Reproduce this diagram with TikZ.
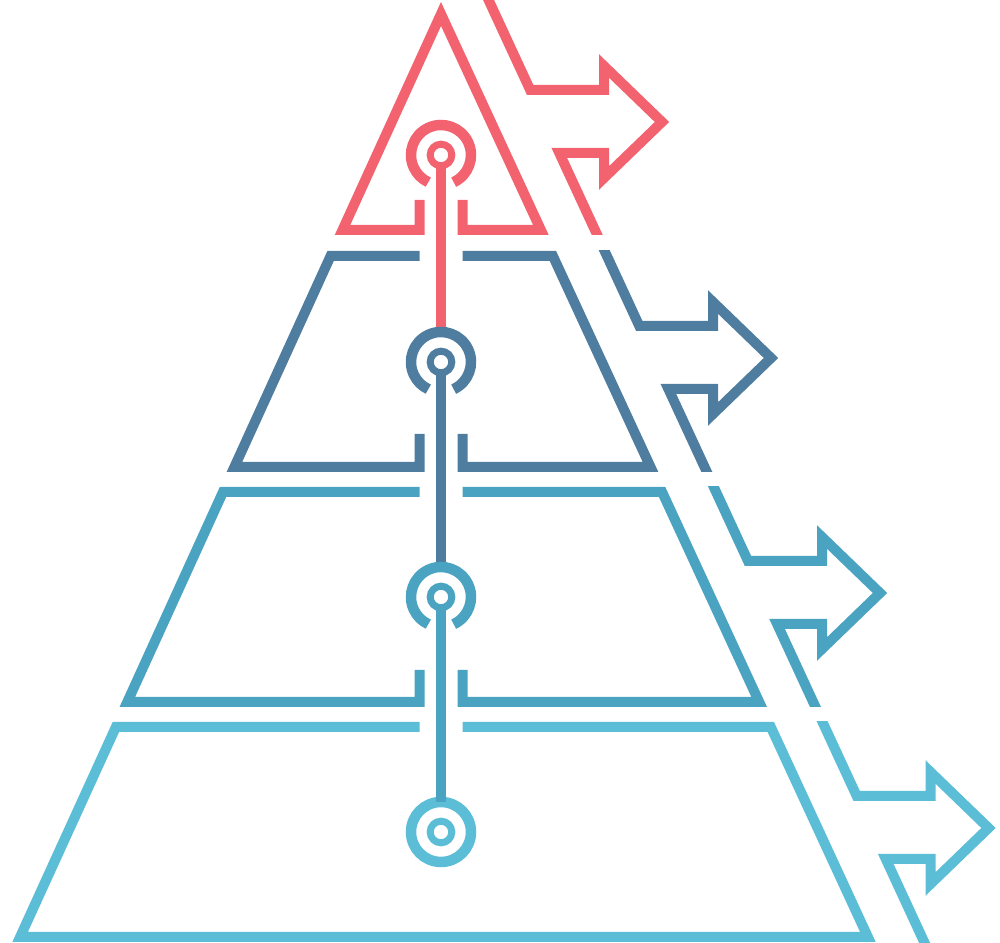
\documentclass[tikz,border=0pt]{standalone}
\usepackage{tikz}
\definecolor{lvlred}{HTML}{F2636F}
\definecolor{lvldark}{HTML}{4E7DA0}
\definecolor{lvlmid}{HTML}{4AA3C0}
\definecolor{lvllight}{HTML}{5BBED6}

\begin{document}
\begin{tikzpicture}[x=0.1mm,y=0.1mm,
    edge/.style={line width=1mm,line join=miter},
    wire/.style={line width=0.95mm},
    core/.style={circle,draw,line width=0.7mm,minimum size=2.16mm,inner sep=0pt,outer sep=0pt},
    halo/.style={circle,minimum size=6mm,inner sep=0pt,outer sep=0pt},
    ring/.style={line width=1.05mm}]
    \useasboundingbox (0,0) rectangle (1000,943);

    % pyramid levels
    \draw[edge,lvlred] (419.5,743) -- (419.5,713) -- (342.5,713) -- (441,929)
      -- (540.9,713) -- (462.5,713) -- (462.5,743);
    \draw[edge,lvldark] (462.5,687) -- (552.9,687) -- (650.5,476) -- (462.5,476) -- (462.5,509)
      (419.5,687) -- (330.6,687) -- (234.4,476) -- (419.5,476) -- (419.5,509);
    \draw[edge,lvlmid] (462.5,451) -- (662.1,451) -- (759.2,241) -- (462.5,241) -- (462.5,273)
      (419.5,451) -- (223,451) -- (127.3,241) -- (419.5,241) -- (419.5,273);
    \draw[edge,lvllight] (462.5,216) -- (770.8,216) -- (867.9,6) -- (20.1,6) -- (115.9,216) -- (419.5,216);

    % arrows
    \begin{scope}
      \clip (0,708) rectangle (1000,943);
      \draw[edge,lvlred] (479.3,963) -- (530.2,853) -- (604,853) -- (604,877) -- (662,821)
        -- (604,765) -- (604,790) -- (559.3,790) -- (604.2,693);
    \end{scope}
    \begin{scope}
      \clip (0,471) rectangle (1000,692);
      \draw[edge,lvldark] (594.9,713) -- (639.3,617) -- (713,617) -- (713,641) -- (771,585)
        -- (713,529) -- (713,554) -- (668.4,554) -- (715.2,453);
    \end{scope}
    \begin{scope}
      \clip (0,236) rectangle (1000,456);
      \draw[edge,lvlmid] (703.6,478) -- (748,382) -- (822,382) -- (822,406) -- (880,350)
        -- (822,294) -- (822,319) -- (777.1,319) -- (823.8,218);
    \end{scope}
    \begin{scope}
      \clip (0,0) rectangle (1000,221);
      \draw[edge,lvllight] (812.3,243) -- (856.7,147) -- (930.5,147) -- (930.5,171) -- (988.5,115)
        -- (930.5,59) -- (930.5,84) -- (885.8,84) -- (932.5,-17);
    \end{scope}

    % targets
    \node[halo] (halo1) at (441,788) {};
    \node[halo] (halo2) at (441,581) {};
    \node[halo] (halo3) at (441,346) {};
    \node[halo,draw=lvllight,ring] (halo4) at (441,111) {};

    \draw[wire,lvlred] (halo1.center) -- (halo2.north);
    \draw[wire,lvldark] (halo2.center) -- (halo3.north);
    \draw[wire,lvlmid] (halo3.center) -- (halo4.north);

    \fill[white] (halo1) circle[radius=7.5] (halo2) circle[radius=7.5] (halo3) circle[radius=7.5];
    \node[core,draw=lvlred] (core1) at (halo1) {};
    \node[core,draw=lvldark] (core2) at (halo2) {};
    \node[core,draw=lvlmid] (core3) at (halo3) {};
    \node[core,draw=lvllight] (core4) at (halo4) {};

    \draw[ring,lvlred] ([shift={(-65:30)}]halo1.center) arc[start angle=-65,end angle=245,radius=30];
    \draw[ring,lvldark] ([shift={(-65:30)}]halo2.center) arc[start angle=-65,end angle=245,radius=30];
    \draw[ring,lvlmid] ([shift={(-65:30)}]halo3.center) arc[start angle=-65,end angle=245,radius=30];
\end{tikzpicture}
\end{document}
